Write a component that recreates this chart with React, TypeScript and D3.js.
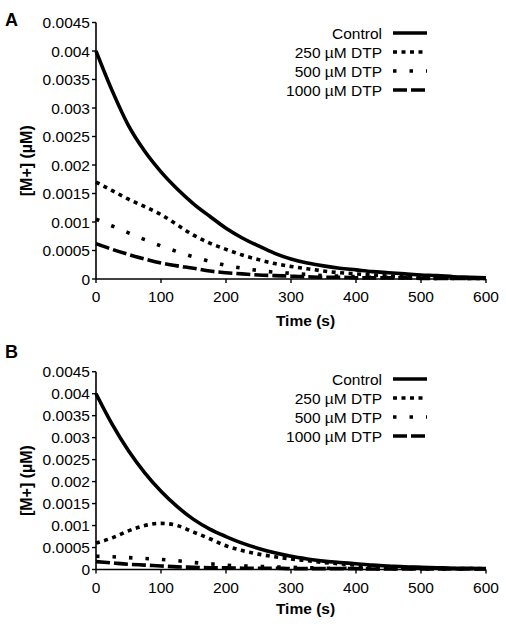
import React from "react";
import * as d3 from "d3";

const times = [0,25,50,75,100,125,150,175,200,225,250,275,300,325,350,375,400,425,450,475,500,525,550,575,600];

const aControl = [0.004,0.0033,0.00269,0.00224,0.00188,0.00158,0.00132,0.0011,0.00089,0.00072,0.00058,0.00045,0.00035,0.00028,0.00023,0.00019,0.00016,0.00013,0.00011,0.00009,0.00007,0.00006,0.00004,0.00003,0.00002];
const a250 = [0.0017,0.00155,0.0014,0.00127,0.00113,0.00095,0.00077,0.00063,0.00052,0.00042,0.00034,0.00027,0.00022,0.00018,0.00014,0.00011,0.00009,0.00007,0.00005,0.00004,0.00003,0.00002,0.00002,0.00001,0.00001];
const a500 = [0.00105,0.00093,0.00081,0.00069,0.00058,0.00048,0.00039,0.00031,0.00024,0.00019,0.00015,0.00012,0.0001,0.00008,0.00006,0.00005,0.00004,0.00003,0.00003,0.00002,0.00002,0.00001,0.00001,0.00001,0.00001];
const a1000 = [0.00062,0.00052,0.00043,0.00035,0.00028,0.00023,0.00019,0.00014,0.00011,0.00009,0.00007,0.00006,0.00005,0.00004,0.00003,0.00003,0.00002,0.00002,0.00002,0.00002,0.00001,0.00001,0.00001,0.00001,0.00001];

const bControl = [0.004,0.0033,0.0027,0.0022,0.00178,0.00143,0.00114,0.00092,0.00075,0.0006,0.00048,0.00038,0.0003,0.00024,0.00019,0.00016,0.00013,0.0001,0.00008,0.00006,0.00005,0.00004,0.00003,0.00003,0.00002];
const b250 = [0.0006,0.00072,0.00088,0.001,0.00105,0.001,0.00085,0.0007,0.00054,0.00043,0.00035,0.00029,0.00024,0.0002,0.00016,0.00013,0.0001,0.00008,0.00006,0.00005,0.00004,0.00003,0.00002,0.00002,0.00002];
const b500 = [0.0003,0.00029,0.00027,0.00025,0.00023,0.0002,0.00016,0.00013,0.0001,0.00008,0.00007,0.00006,0.00005,0.00004,0.00003,0.00003,0.00002,0.00002,0.00002,0.00002,0.00001,0.00001,0.00001,0.00001,0.00001];
const b1000 = [0.00018,0.00015,0.00012,0.0001,0.00008,0.00006,0.00005,0.00004,0.00004,0.00003,0.00003,0.00003,0.00002,0.00002,0.00002,0.00002,0.00002,0.00001,0.00001,0.00001,0.00001,0.00001,0.00001,0.00001,0.00001];

const seriesNames = ["Control", "250 \u00b5M DTP", "500 \u00b5M DTP", "1000 \u00b5M DTP"];
const xTicks = [0, 100, 200, 300, 400, 500, 600];
const yTicks = [0, 0.0005, 0.001, 0.0015, 0.002, 0.0025, 0.003, 0.0035, 0.004, 0.0045];
const yTickLabels = ["0", "0.0005", "0.001", "0.0015", "0.002", "0.0025", "0.003", "0.0035", "0.004", "0.0045"];

const dashes = ["", "4 4.5", "3.5 13", "14 4"];
const FONT = "'Liberation Sans', Arial, Helvetica, sans-serif";

type PanelProps = {
  label: string;
  data: number[][];
  y0: number;
  y1: number;
  labelY: number;
  legendY: number;
  titleY: number;
};

function Panel({ label, data, y0, y1, labelY, legendY, titleY }: PanelProps) {
  const x = d3.scaleLinear().domain([0, 600]).range([96, 486]);
  const y = d3.scaleLinear().domain([0, 0.0045]).range([y0, y1]);
  const line = d3
    .line<number>()
    .x((_, i) => x(times[i]))
    .y((d) => y(d))
    .curve(d3.curveMonotoneX);
  return (
    <g>
      <text x={5} y={labelY} fontSize={18} fontWeight="bold" fontFamily={FONT}>{label}</text>
      {data.map((s, i) => (
        <path
          key={i}
          d={line(s) || ""}
          fill="none"
          stroke="#000"
          strokeWidth={3.6}
          strokeDasharray={dashes[i] || undefined}
          strokeLinecap="butt"
        />
      ))}
      <line x1={x(0)} x2={x(0)} y1={y(0)} y2={y(0.0045)} stroke="#000" strokeWidth={1.6} />
      <line x1={x(0)} x2={x(600)} y1={y(0)} y2={y(0)} stroke="#000" strokeWidth={1.6} />
      {yTicks.map((t, i) => (
        <g key={"y" + i}>
          <line x1={x(0) - 4} x2={x(0)} y1={y(t)} y2={y(t)} stroke="#000" strokeWidth={1.4} />
          <text x={x(0) - 6} y={y(t)} dy="0.36em" textAnchor="end" fontSize={15.5} fontFamily={FONT}>
            {yTickLabels[i]}
          </text>
        </g>
      ))}
      {xTicks.map((t, i) => (
        <g key={"x" + i}>
          <line x1={x(t)} x2={x(t)} y1={y(0)} y2={y(0) + 4} stroke="#000" strokeWidth={1.4} />
          <text x={x(t)} y={y(0) + 23} textAnchor="middle" fontSize={15.5} fontFamily={FONT}>
            {t}
          </text>
        </g>
      ))}
      <text x={305.5} y={titleY} textAnchor="middle" fontSize={15.5} fontWeight="bold" fontFamily={FONT}>
        Time (s)
      </text>
      <text
        transform={`translate(32,${(y(0) + y(0.0045)) / 2 + 10}) rotate(-90)`}
        textAnchor="middle"
        fontSize={16}
        fontWeight="bold"
        fontFamily={FONT}
      >
        [M+] (µM)
      </text>
      {seriesNames.map((n, i) => {
        const ly = legendY + i * 19;
        return (
          <g key={"l" + i}>
            <text x={382} y={ly} dy="0.36em" textAnchor="end" fontSize={15.5} fontFamily={FONT}>
              {n}
            </text>
            <line
              x1={393}
              x2={427}
              y1={ly}
              y2={ly}
              stroke="#000"
              strokeWidth={3.6}
              strokeDasharray={dashes[i] || undefined}
            />
          </g>
        );
      })}
    </g>
  );
}

export default function App() {
  return (
    <svg
      width={506}
      height={627}
      style={{ position: "absolute", left: 0, top: 0, background: "#fff" }}
    >
      <rect width={506} height={627} fill="#fff" />
      <Panel label="A" data={[aControl, a250, a500, a1000]} y0={279} y1={22.5} labelY={26} legendY={33} titleY={326} />
      <Panel label="B" data={[bControl, b250, b500, b1000]} y0={569.5} y1={371.7} labelY={358} legendY={379} titleY={614} />
    </svg>
  );
}
